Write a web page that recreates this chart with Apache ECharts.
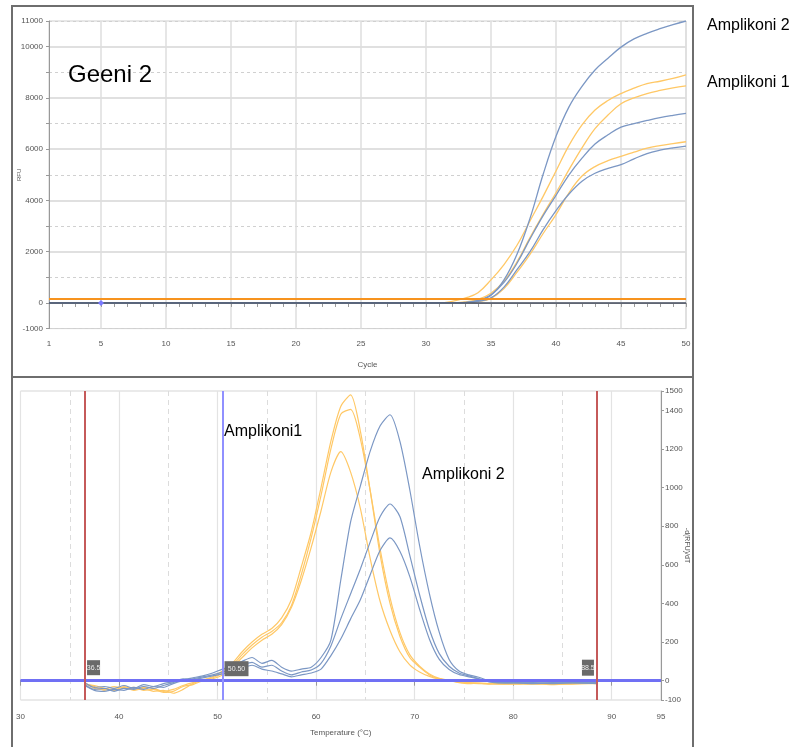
<!DOCTYPE html>
<html><head><meta charset="utf-8">
<script src="https://cdn.jsdelivr.net/npm/echarts@6/dist/echarts.min.js"></script>
<style>html,body{margin:0;padding:0;background:#fff}#c{width:809px;height:747px}</style>
</head><body><div id="c"></div>
<script>
// ---------- top chart (amplification) ----------
const cycles = [1, 31, 32, 33, 34, 35, 36, 37, 38, 39, 40, 41, 42, 43, 44, 45, 46, 47, 48, 49, 50];
const ampBlue1 = [0, 0, 0, 10, 80, 300, 900, 1900, 3300, 5000, 6500, 7650, 8450, 9090, 9550, 9980, 10300, 10520, 10700, 10860, 11000];
const ampBlue2 = [0, 0, 0, 20, 100, 320, 800, 1550, 2500, 3400, 4200, 5000, 5650, 6200, 6560, 6860, 7000, 7120, 7230, 7320, 7400];
const ampBlue3 = [0, 0, 0, 0, 60, 200, 620, 1300, 2000, 2850, 3600, 4250, 4750, 5060, 5250, 5400, 5620, 5830, 5960, 6050, 6120];
const ampOrange1 = [0, 0, 60, 190, 400, 900, 1500, 2250, 3200, 4150, 5150, 6150, 6950, 7530, 7900, 8170, 8380, 8560, 8650, 8760, 8900];
const ampOrange2 = [0, 0, 0, 40, 140, 380, 850, 1600, 2550, 3450, 4300, 5200, 6050, 6800, 7330, 7770, 8000, 8170, 8290, 8390, 8470];
const ampOrange3 = [0, 0, 0, 0, 50, 180, 560, 1200, 1900, 2700, 3450, 4300, 4950, 5320, 5550, 5720, 5880, 6040, 6140, 6220, 6290];
const thresholdRFU = 150;
const baselineRFU = 0;
const cycleLabels = [1, 5, 10, 15, 20, 25, 30, 35, 40, 45, 50];
const rfuLabels = [-1000, 0, 2000, 4000, 6000, 8000, 10000, 11000];

// ---------- bottom chart (melt peaks) ----------
const temps = [36.5, 37.5, 38.5, 39.5, 40.5, 41.5, 42.5, 43.5, 44.5, 45.5, 46.5, 47.5, 48.5, 49.5,
  50.5, 51.5, 52.5, 53.5, 54.5, 55.5, 56.5, 57.5, 58.5, 59.5, 60.5, 61.5, 62.5, 63.5,
  64.5, 65.5, 66.5, 67.5, 68.5, 69.5, 70.5, 71.5, 72.5, 73.5, 74.5, 75.5, 76.5, 77.5, 78.5,
  80, 82, 84, 86, 88.5];
const meltOrange1 = [-10, -40, -45, -30, -40, -35, -50, -45, -60, -55, -30, -20, 0, 20,
  50, 90, 150, 200, 240, 270, 325, 420, 590, 770, 1000, 1240, 1420, 1480,
  1290, 980, 650, 400, 230, 120, 70, 30, 10, 0, -5, -10, -12, -15, -15,
  -15, -18, -15, -15, -12];
const meltOrange2 = [-15, -30, -50, -40, -35, -50, -40, -55, -50, -65, -45, -15, 5, 15,
  40, 80, 135, 185, 225, 255, 300, 390, 550, 740, 960, 1200, 1380, 1405,
  1250, 980, 680, 430, 250, 135, 75, 35, 12, 2, -8, -12, -15, -18, -15,
  -18, -15, -20, -15, -15];
const meltOrange3 = [-20, -25, -40, -50, -30, -45, -35, -40, -55, -45, -25, -10, 0, 10,
  30, 70, 120, 170, 210, 240, 290, 380, 520, 690, 880, 1080, 1186, 1080,
  890, 630, 410, 260, 150, 82, 45, 22, 8, 0, -10, -15, -12, -15, -18,
  -15, -12, -15, -18, -12];
const meltBlue1 = [-20, -45, -40, -55, -40, -45, -30, -40, -25, -10, 5, 15, 25, 40,
  60, 75, 100, 120, 90, 105, 70, 50, 60, 70, 120, 210, 520, 822,
  1010, 1190, 1320, 1377, 1240, 990, 700, 450, 250, 110, 50, 30, 18, 0, -8,
  -10, -12, -10, -12, -10];
const meltBlue2 = [-25, -50, -55, -45, -50, -35, -45, -30, -35, -15, 0, 10, 20, 30,
  45, 60, 80, 95, 70, 80, 50, 30, 45, 55, 90, 180, 320, 450,
  580, 720, 850, 915, 850, 650, 445, 265, 140, 75, 40, 25, 10, -5, -10,
  -12, -10, -15, -10, -12];
const meltBlue3 = [-10, -35, -30, -40, -25, -40, -20, -30, -15, -5, 10, 5, 15, 25,
  35, 50, 65, 80, 60, 50, 35, 20, 30, 40, 60, 130, 216, 320,
  420, 550, 675, 739, 670, 540, 370, 215, 110, 58, 32, 20, 10, -5, -12,
  -10, -15, -12, -10, -15];
const limitTemps = [36.5, 88.5];
const cursorTemp = 50.5;
const cursorLabel = '50.50';
const derivLabels = [-100, 0, 200, 400, 600, 800, 1000, 1200, 1400, 1500];
const tempLabels = [30, 40, 50, 60, 70, 80, 90, 95];

const BLUE = '#7b97c4', ORANGE = '#ffc866';
const AX = {fontFamily: '"Liberation Sans Narrow", "Liberation Sans", Arial', fontSize: 8, color: '#555'};

function pairs(xs, ys) { return xs.map((x, i) => [x, ys[i]]); }
function topLine(vals, color) {
  return {type: 'line', xAxisIndex: 0, yAxisIndex: 0, data: pairs(cycles, vals), smooth: 0.4,
    showSymbol: false, lineStyle: {color: color, width: 1.3}, z: 2, silent: true};
}
function botLine(vals, color) {
  return {type: 'line', xAxisIndex: 1, yAxisIndex: 2, data: pairs(temps, vals), smooth: 0.25,
    showSymbol: false, lineStyle: {color: color, width: 1.2}, z: 2, silent: true};
}

const chart = echarts.init(document.getElementById('c'), null, {renderer: 'canvas'});
const seriesTop = [topLine(ampOrange1, ORANGE), topLine(ampOrange2, ORANGE), topLine(ampOrange3, ORANGE),
  topLine(ampBlue1, BLUE), topLine(ampBlue2, BLUE), topLine(ampBlue3, BLUE)];
seriesTop[5].markLine = {silent: true, symbol: 'none', animation: false, label: {show: false},
  data: [
    {yAxis: baselineRFU, lineStyle: {color: '#4d5566', width: 1.5, type: 'solid'}},
    {yAxis: thresholdRFU, lineStyle: {color: '#f7931e', width: 2, type: 'solid'}}
  ]};
seriesTop[5].markPoint = {silent: true, animation: false,
  data: [{coord: [cycleLabels[1], baselineRFU], symbol: 'diamond', symbolSize: 6, itemStyle: {color: '#7a7aff'}, label: {show: false}}]};

const seriesBot = [botLine(meltOrange1, ORANGE), botLine(meltOrange2, ORANGE), botLine(meltOrange3, ORANGE),
  botLine(meltBlue1, BLUE), botLine(meltBlue2, BLUE), botLine(meltBlue3, BLUE)];
seriesBot[5].markLine = {silent: true, symbol: 'none', animation: false, label: {show: false},
  data: [
    {yAxis: 0, lineStyle: {color: '#7070f4', width: 3, type: 'solid'}},
    {xAxis: limitTemps[0], lineStyle: {color: '#c55a5a', width: 2, type: 'solid'}},
    {xAxis: limitTemps[1], lineStyle: {color: '#c55a5a', width: 2, type: 'solid'}},
    {xAxis: cursorTemp, lineStyle: {color: '#9090ff', width: 2, type: 'solid'}}
  ]};
const boxLabel = (txt) => ({show: true, formatter: txt, color: '#eee', fontSize: 7, fontFamily: AX.fontFamily});
seriesBot[5].markPoint = {silent: true, animation: false,
  data: [
    {coord: [limitTemps[0], 0], symbol: 'rect', symbolSize: [13, 15], symbolOffset: [9, -13], itemStyle: {color: '#6a6a6a'}, label: boxLabel(String(limitTemps[0]))},
    {coord: [cursorTemp, 0], symbol: 'rect', symbolSize: [24, 15], symbolOffset: [14, -12], itemStyle: {color: '#6a6a6a'}, label: boxLabel(cursorLabel)},
    {coord: [limitTemps[1], 0], symbol: 'rect', symbolSize: [12, 16], symbolOffset: [-9, -13], itemStyle: {color: '#6a6a6a'}, label: boxLabel(String(limitTemps[1]))}
  ]};

const option = {
  animation: false,
  backgroundColor: '#fff',
  grid: [
    {left: 49, right: 123, top: 21, height: 307.6, show: true, borderColor: '#cfcfcf', borderWidth: 1},
    {left: 20.5, right: 148, top: 391, height: 309, show: true, borderColor: '#d5d5d5', borderWidth: 1}
  ],
  xAxis: [
    {type: 'value', gridIndex: 0, min: 1, max: 50, interval: 1,
      name: 'Cycle', nameLocation: 'middle', nameGap: 32, nameTextStyle: AX, nameMoveOverlap: false,
      axisLine: {lineStyle: {color: '#999'}}, axisTick: {length: 4, lineStyle: {color: '#999'}},
      axisLabel: Object.assign({margin: 11, formatter: v => cycleLabels.indexOf(v) >= 0 ? String(v) : ''}, AX),
      splitLine: {show: true, lineStyle: {color: ['transparent', 'transparent', 'transparent', 'transparent', '#dedede'], width: 1.5}}},
    {type: 'value', gridIndex: 1, min: 30, max: 95, interval: 10,
      name: 'Temperature (°C)', nameLocation: 'middle', nameGap: 29, nameTextStyle: AX, nameMoveOverlap: false,
      axisLine: {lineStyle: {color: '#999'}}, axisTick: {length: 5, lineStyle: {color: '#999'}},
      axisLabel: Object.assign({margin: 13}, AX),
      splitLine: {show: true, lineStyle: {color: '#e3e3e3', width: 1.2}}},
    {type: 'value', gridIndex: 1, min: 30, max: 95, interval: 5, show: true,
      axisLine: {show: false}, axisTick: {show: false}, axisLabel: {show: false},
      splitLine: {show: true, lineStyle: {color: ['transparent', '#dcdcdc'], type: [5, 4], width: 1}}}
  ],
  yAxis: [
    {type: 'value', gridIndex: 0, min: -1000, max: 11000, interval: 1000,
      name: 'RFU', nameLocation: 'middle', nameGap: 27, nameRotate: 90, nameMoveOverlap: false,
      nameTextStyle: Object.assign({}, AX, {fontSize: 6}),
      axisLine: {show: true, lineStyle: {color: '#999'}}, axisTick: {show: true, length: 3, lineStyle: {color: '#999'}},
      axisLabel: Object.assign({margin: 6, formatter: v => rfuLabels.indexOf(v) >= 0 ? String(v) : ''}, AX),
      splitLine: {show: true, lineStyle: {color: ['transparent', '#d6d6d6'], width: 1.5}}},
    {type: 'value', gridIndex: 0, min: -1000, max: 11000, interval: 1000, show: true,
      axisLine: {show: false}, axisTick: {show: false}, axisLabel: {show: false},
      splitLine: {show: true, lineStyle: {color: ['#d0d0d0', 'transparent'], type: [3, 3], width: 1}}},
    {type: 'value', gridIndex: 1, min: -100, max: 1500, interval: 100, position: 'right',
      name: '-d(RFU)/dT', nameLocation: 'middle', nameGap: 22, nameRotate: -90, nameMoveOverlap: false,
      nameTextStyle: Object.assign({}, AX, {fontSize: 7}),
      axisLine: {show: true, lineStyle: {color: '#999'}},
      axisTick: {show: true, length: 3, lineStyle: {color: '#999'}, customValues: derivLabels},
      axisLabel: Object.assign({margin: 4, customValues: derivLabels, formatter: v => derivLabels.indexOf(v) >= 0 ? String(v) : ''}, AX),
      splitLine: {show: false}}
  ],
  series: seriesTop.concat(seriesBot),
  graphic: [
    {type: 'rect', silent: true, shape: {x: 12, y: 6, width: 681, height: 371}, style: {fill: 'none', stroke: '#6e6e6e', lineWidth: 2}, z: 100},
    {type: 'rect', silent: true, shape: {x: 12, y: 377, width: 681, height: 380}, style: {fill: 'none', stroke: '#6e6e6e', lineWidth: 2}, z: 100},
    {type: 'text', silent: true, x: 68, y: 75, style: {text: 'Geeni 2', font: '24px "Liberation Sans", Arial', fill: '#000', verticalAlign: 'middle'}, z: 100},
    {type: 'text', silent: true, x: 707, y: 26, style: {text: 'Amplikoni 2', font: '16px "Liberation Sans", Arial', fill: '#000', verticalAlign: 'middle'}, z: 100},
    {type: 'text', silent: true, x: 707, y: 83, style: {text: 'Amplikoni 1', font: '16px "Liberation Sans", Arial', fill: '#000', verticalAlign: 'middle'}, z: 100},
    {type: 'text', silent: true, x: 224, y: 432, style: {text: 'Amplikoni1', font: '16px "Liberation Sans", Arial', fill: '#000', verticalAlign: 'middle'}, z: 100},
    {type: 'text', silent: true, x: 422, y: 475, style: {text: 'Amplikoni 2', font: '16px "Liberation Sans", Arial', fill: '#000', verticalAlign: 'middle'}, z: 100}
  ]
};
chart.setOption(option);
</script>
</body></html>
